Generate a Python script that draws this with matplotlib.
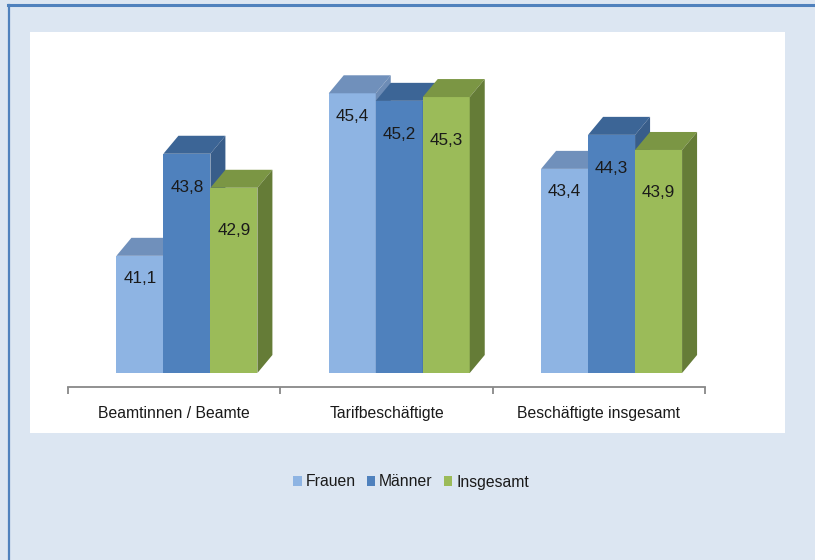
import matplotlib
matplotlib.use('Agg')
import matplotlib.pyplot as plt
from matplotlib.patches import Polygon, Rectangle, Patch
from matplotlib.lines import Line2D

plt.rcParams['font.family'] = ['Liberation Sans Narrow', 'Liberation Sans', 'DejaVu Sans']

categories = ['Beamtinnen / Beamte', 'Tarifbeschäftigte', 'Beschäftigte insgesamt']
series = ['Frauen', 'Männer', 'Insgesamt']
frauen = [41.1, 45.4, 43.4]
maenner = [43.8, 45.2, 44.3]
insgesamt = [42.9, 45.3, 43.9]
values = [frauen, maenner, insgesamt]

front_cols = ['#8eb4e3', '#4f81bd', '#9bbb59']
top_cols = ['#7090bb', '#3c6596', '#7b9644']
side_cols = ['#6d8cb6', '#385d8a', '#657c37']
label_drop = [23, 34, 43]  # px below top of front face
fs = 11.3

W, H = 815, 560
fig = plt.figure(figsize=(W / 100, H / 100), dpi=100)
fig.patch.set_facecolor('#dce6f2')

# white chart area and blue frame
fig.patches.append(Rectangle((30 / W, 1 - 433 / H), 755 / W, 401 / H,
                             transform=fig.transFigure, facecolor='white', edgecolor='none', zorder=-1))
fig.lines.append(Line2D([8 / W, 1], [1 - 5 / H, 1 - 5 / H], transform=fig.transFigure,
                        color='#4f81bd', lw=2.2))
fig.lines.append(Line2D([8.5 / W, 8.5 / W], [0, 1 - 5 / H], transform=fig.transFigure,
                        color='#4f81bd', lw=1.6))

ppu_y = 37.8            # px per value unit
ax_l, ax_r, ax_b, ax_t = 68, 705, 387, 32
ppu_x = (ax_r - ax_l) / 3
ymin = 38 - (ax_b - 373) / ppu_y
ymax = 38 + (373 - ax_t) / ppu_y

ax = fig.add_axes([ax_l / W, 1 - ax_b / H, (ax_r - ax_l) / W, (ax_b - ax_t) / H])
ax.set_facecolor('none')
ax.set_xlim(0, 3)
ax.set_ylim(ymin, ymax)

bw = 47 / ppu_x
dx = 15 / ppu_x
dy = 18 / ppu_y
base = 38

for g in range(3):
    center = g + 0.5 + 0.06
    for s in range(3):
        x0 = center + (s - 1.5) * bw
        v = values[s][g]
        ax.bar(x0, v - base, bottom=base, width=bw, align='edge',
               color=front_cols[s], edgecolor='none', zorder=2)
        ax.add_patch(Polygon([(x0, v), (x0 + bw, v), (x0 + bw + dx, v + dy), (x0 + dx, v + dy)],
                             closed=True, facecolor=top_cols[s], edgecolor='none', zorder=2))
        ax.add_patch(Polygon([(x0 + bw, base), (x0 + bw + dx, base + dy), (x0 + bw + dx, v + dy), (x0 + bw, v)],
                             closed=True, facecolor=side_cols[s], edgecolor='none', zorder=2))
        ax.text(x0 + bw / 2, v - label_drop[s] / ppu_y, f'{v:.1f}'.replace('.', ','),
                ha='center', va='center', fontsize=12.3, color='#1a1a1a', zorder=3)

for sp in ['top', 'right', 'left']:
    ax.spines[sp].set_visible(False)
ax.spines['bottom'].set_color('#888888')
ax.spines['bottom'].set_linewidth(1.3)
ax.set_yticks([])
ax.set_xticks([0.5, 1.5, 2.5])
ax.set_xticklabels(categories, fontsize=fs, color='#1a1a1a')
ax.set_xticks([0, 1, 2, 3], minor=True)
ax.tick_params(axis='x', which='major', length=0, pad=14)
ax.tick_params(axis='x', which='minor', length=5, width=1.3, color='#888888', direction='out')

handles = [Patch(facecolor=front_cols[i], edgecolor='none', label=series[i]) for i in range(3)]
fig.legend(handles=handles, loc='center', bbox_to_anchor=(411 / W, 1 - 482 / H), ncol=3,
           frameon=False, fontsize=fs, handlelength=0.55, handleheight=0.55,
           handletextpad=0.25, columnspacing=0.7, labelcolor='#1a1a1a')

fig.savefig('out.png', dpi=100, facecolor=fig.get_facecolor())
